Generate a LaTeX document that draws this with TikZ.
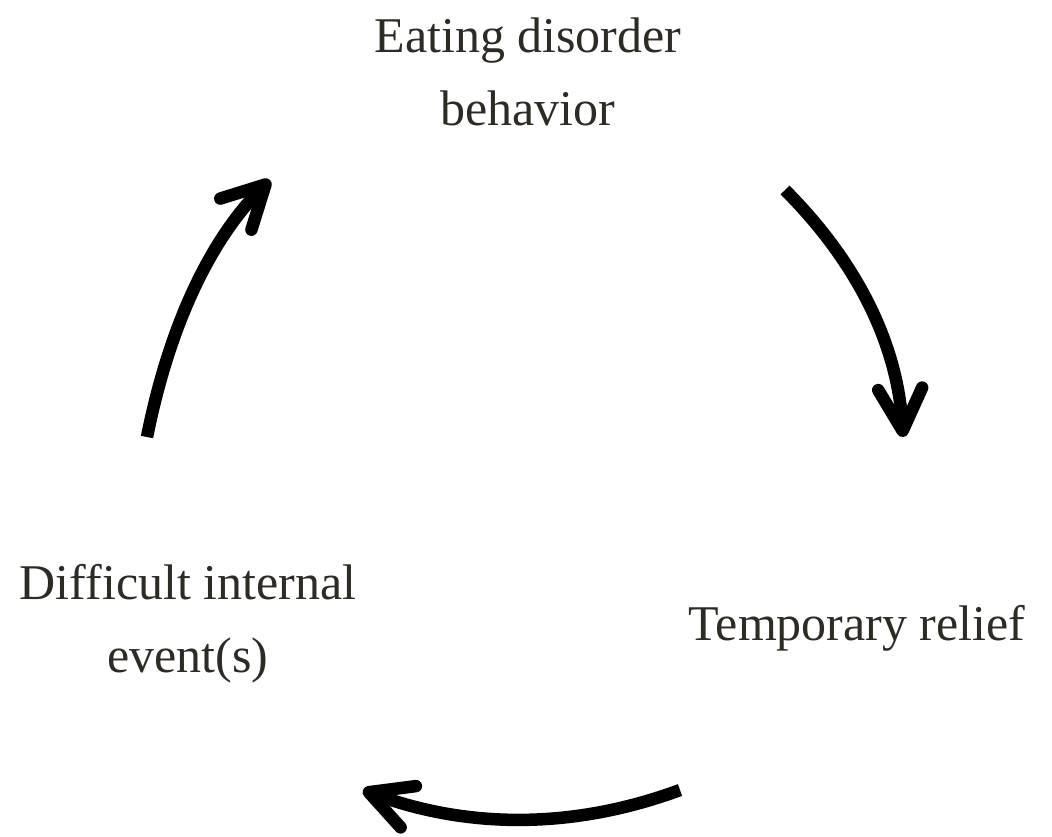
\documentclass[tikz,border=0pt]{standalone}
\usepackage{fontspec}
\setmainfont{Liberation Serif}
\usetikzlibrary{arrows.meta}
\definecolor{txt}{HTML}{2E2A24}
\tikzset{
  lbl/.style={text=txt, font=\fontsize{50}{73}\selectfont, align=center, inner sep=0pt, anchor=base},
  cyc/.style={line width=12.5pt, line cap=butt, black,
    -{Straight Barb[round, length=42pt, width=44pt]}}
}
\begin{document}
\begin{tikzpicture}[x=1pt,y=-1pt]
\useasboundingbox (0,0) rectangle (1052,836);
\node[lbl] (eat) at (528,125) {Eating disorder\\behavior};
\node[lbl] (rel) at (857,640) {Temporary relief};
\node[lbl] (dif) at (188,672) {Difficult internal\\event(s)};
\coordinate (a1s) at (147,437);
\coordinate (a1e) at (270,180);
\coordinate (a2s) at (785,190);
\coordinate (a2e) at (903,437);
\coordinate (a3s) at (680,790);
\coordinate (a3e) at (363,790);
\draw[cyc] (a1s) .. controls (169.3,325.3) and (210.3,239.7) .. (a1e);
\draw[cyc] (a2s) .. controls (858.3,263.3) and (897.7,345.7) .. (a2e);
\draw[cyc] (a3s) .. controls (574.3,829.1) and (468.7,829.1) .. (a3e);
\end{tikzpicture}
\end{document}
